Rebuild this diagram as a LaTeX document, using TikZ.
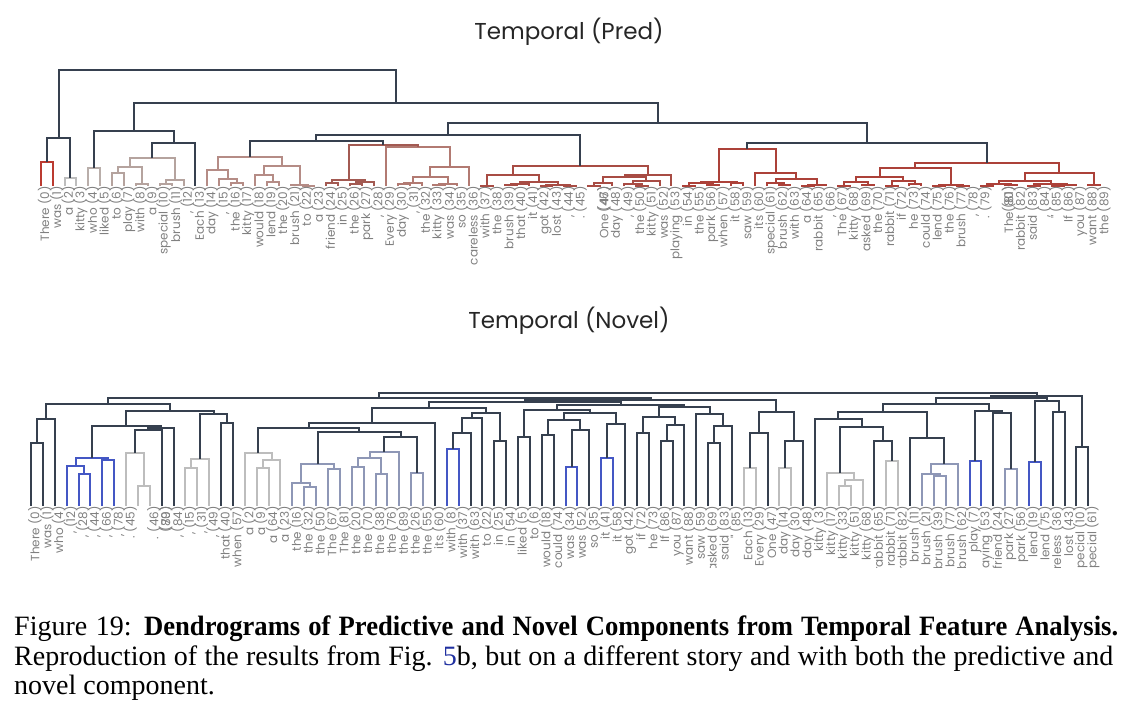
\documentclass[tikz,border=0pt]{standalone}
\usepackage{fontspec}
\setmainfont{Liberation Serif}
\newfontfamily\lblfont{Poppins}
\newfontfamily\capfont[BoldFeatures={FakeStretch=0.95}]{Liberation Serif}
\usetikzlibrary{calc}

\definecolor{navyc}{HTML}{36404F}
\definecolor{redc}{HTML}{BB3A30}
\definecolor{greyc}{HTML}{BDBDBD}
\definecolor{tanc}{HTML}{B9AEAA}
\definecolor{taupec}{HTML}{B5A39E}
\definecolor{rosec}{HTML}{B58C86}
\definecolor{brownc}{HTML}{A35A52}
\definecolor{rosyc}{HTML}{B27A72}
\definecolor{rbrownc}{HTML}{A84C44}
\definecolor{red2c}{HTML}{AC4139}
\definecolor{bluec}{HTML}{4457C4}
\definecolor{bgreyc}{HTML}{8E97B6}
\definecolor{lblc}{HTML}{808080}
\definecolor{linkc}{HTML}{2030A0}

% one merge of a dendrogram: name, left child, right child, height, style
\newcommand{\dmerge}[5]{%
  \draw[#5] (#2) -- (#2 |- 0,#4) -- (#3 |- 0,#4) -- (#3);
  \coordinate (#1) at ($(#2 |- 0,#4)!0.5!(#3 |- 0,#4)$);
}

\begin{document}
\begin{tikzpicture}[
    x=1pt, y=-1pt,
    dline/.style={line width=2pt, draw=#1},
    dline/.default=navyc,
    navyl/.style={dline=navyc},
    redl/.style={dline=redc},
    greyl/.style={dline=greyc},
    tanl/.style={dline=tanc},
    taupel/.style={dline=taupec},
    rosel/.style={dline=rosec},
    brownl/.style={dline=brownc},
    rosyl/.style={dline=rosyc},
    rbrownl/.style={dline=rbrownc},
    red2l/.style={dline=red2c},
    bluel/.style={dline=bluec},
    bgreyl/.style={dline=bgreyc},
    lbl/.style={rotate=90, anchor=east, inner sep=0pt, yshift=-4pt,
                font=\lblfont\fontsize{12}{13}\selectfont, text=lblc},
    ttl/.style={font=\lblfont\fontsize{23}{27}\selectfont, text=black!85},
    captxt/.style={anchor=base west, inner sep=0pt,
                font=\capfont\fontsize{28}{30}\selectfont}
]
    \useasboundingbox (0,0) rectangle (1133,709);

    % Titles
    \node[ttl] (ttlpred)  at (569,32)  {Temporal (Pred)};
    \node[ttl] (ttlnovel) at (569,321) {Temporal (Novel)};

    % Leaves
    \foreach \i in {0,...,89} {
        \coordinate (p\i) at ({40.7+11.9*\i},186);
        \coordinate (q\i) at ({31+11.88*\i},506);
    }

    % Pred dendrogram
    \dmerge{t1}{p0}{p1}{162}{redl}
    \dmerge{t2}{p2}{p3}{178}{greyl}
    \dmerge{t3}{t1}{t2}{138}{navyl}
    \dmerge{t4}{p4}{p5}{168}{tanl}
    \dmerge{t5}{p6}{p7}{173}{taupel}
    \dmerge{t6}{p8}{p9}{184}{taupel}
    \dmerge{t7}{t5}{t6}{167}{taupel}
    \dmerge{t8}{p10}{p11}{184}{taupel}
    \dmerge{t9}{t8}{p12}{180}{taupel}
    \dmerge{t10}{t7}{t9}{158}{taupel}
    \dmerge{t11}{t10}{p13}{143}{navyl}
    \dmerge{t12}{t4}{t11}{131}{navyl}
    \dmerge{t13}{p16}{p17}{183}{rosel}
    \dmerge{t14}{p15}{t13}{179}{rosel}
    \dmerge{t15}{p14}{t14}{170}{rosel}
    \dmerge{t16}{p19}{p20}{182}{rosel}
    \dmerge{t17}{p18}{t16}{175}{rosel}
    \dmerge{t18}{p22}{p23}{185.5}{rosel}
    \dmerge{t19}{p21}{t18}{185}{rosel}
    \dmerge{t20}{t17}{t19}{166}{rosel}
    \dmerge{t21}{t15}{t20}{157}{rosel}
    \dmerge{t22}{p24}{p25}{183}{brownl}
    \dmerge{t23}{p26}{p27}{184}{brownl}
    \dmerge{t24}{t23}{p28}{182}{brownl}
    \dmerge{t25}{t22}{t24}{180}{brownl}
    \dmerge{t26}{p30}{p31}{184}{rosyl}
    \dmerge{t27}{t26}{p32}{183}{rosyl}
    \dmerge{t28}{p33}{p34}{185}{rosyl}
    \dmerge{t29}{t28}{p35}{184}{rosyl}
    \dmerge{t30}{t27}{t29}{177}{rosyl}
    \dmerge{t31}{t30}{p36}{167}{rosyl}
    \dmerge{t32}{p29}{t31}{147}{rosyl}
    \dmerge{t33}{t25}{t32}{145}{brownl}
    \dmerge{t34}{t21}{t33}{141}{navyl}
    \dmerge{t35}{p37}{p38}{185.5}{rbrownl}
    \dmerge{t36}{p39}{p40}{185}{rbrownl}
    \dmerge{t37}{t36}{p41}{184}{rbrownl}
    \dmerge{t38}{p42}{p43}{185.5}{rbrownl}
    \dmerge{t39}{p44}{p45}{185.5}{rbrownl}
    \dmerge{t40}{t38}{t39}{185}{rbrownl}
    \dmerge{t41}{t37}{t40}{182}{rbrownl}
    \dmerge{t42}{t35}{t41}{175}{rbrownl}
    \dmerge{t43}{p46}{p47}{185.5}{rbrownl}
    \dmerge{t44}{t43}{p48}{183}{rbrownl}
    \dmerge{t45}{p50}{p51}{185.5}{rbrownl}
    \dmerge{t46}{p49}{t45}{184}{rbrownl}
    \dmerge{t47}{t46}{p52}{181}{rbrownl}
    \dmerge{t48}{t44}{t47}{177}{rbrownl}
    \dmerge{t49}{t48}{p53}{175}{rbrownl}
    \dmerge{t50}{t42}{t49}{166}{rbrownl}
    \dmerge{t51}{t34}{t50}{135}{navyl}
    \dmerge{t52}{p54}{p55}{185.5}{red2l}
    \dmerge{t53}{p56}{p57}{185}{red2l}
    \dmerge{t54}{t52}{t53}{183}{red2l}
    \dmerge{t55}{p58}{p59}{183}{red2l}
    \dmerge{t56}{t54}{t55}{182}{red2l}
    \dmerge{t57}{p62}{p63}{185}{red2l}
    \dmerge{t58}{p61}{t57}{183}{red2l}
    \dmerge{t59}{p64}{p65}{185.5}{red2l}
    \dmerge{t60}{t59}{p66}{185}{red2l}
    \dmerge{t61}{t58}{t60}{179}{red2l}
    \dmerge{t62}{p60}{t61}{173}{red2l}
    \dmerge{t63}{t56}{t62}{149}{red2l}
    \dmerge{t64}{p67}{p68}{185.5}{red2l}
    \dmerge{t65}{p69}{p70}{185}{red2l}
    \dmerge{t66}{t64}{t65}{182}{red2l}
    \dmerge{t67}{p71}{p72}{185.5}{red2l}
    \dmerge{t68}{p73}{p74}{184}{red2l}
    \dmerge{t69}{t67}{t68}{181}{red2l}
    \dmerge{t70}{t66}{t69}{177}{red2l}
    \dmerge{t71}{p75}{p76}{185.5}{red2l}
    \dmerge{t72}{p77}{p78}{185.5}{red2l}
    \dmerge{t73}{t71}{t72}{185}{red2l}
    \dmerge{t74}{t70}{t73}{168}{red2l}
    \dmerge{t75}{p79}{p80}{185.5}{red2l}
    \dmerge{t76}{p81}{p82}{185}{red2l}
    \dmerge{t77}{t75}{t76}{184}{red2l}
    \dmerge{t78}{p83}{p84}{185.5}{red2l}
    \dmerge{t79}{p85}{p86}{185.5}{red2l}
    \dmerge{t80}{t79}{p87}{185}{red2l}
    \dmerge{t81}{t78}{t80}{184}{red2l}
    \dmerge{t82}{t77}{t81}{181}{red2l}
    \dmerge{t83}{p88}{p89}{185}{red2l}
    \dmerge{t84}{t82}{t83}{173}{red2l}
    \dmerge{t85}{t74}{t84}{163}{red2l}
    \dmerge{t86}{t63}{t85}{143}{navyl}
    \dmerge{t87}{t51}{t86}{123}{navyl}
    \dmerge{t88}{t12}{t87}{103}{navyl}
    \dmerge{t89}{t3}{t88}{70}{navyl}

    % Novel dendrogram
    \dmerge{b1}{q0}{q1}{443}{navyl}
    \dmerge{b2}{b1}{q2}{419}{navyl}
    \dmerge{b3}{q4}{q5}{474}{bluel}
    \dmerge{b4}{q3}{b3}{466}{bluel}
    \dmerge{b5}{q6}{q7}{460}{bluel}
    \dmerge{b6}{b4}{b5}{458}{bluel}
    \dmerge{b7}{q9}{q10}{486}{greyl}
    \dmerge{b8}{q8}{b7}{453}{greyl}
    \dmerge{b9}{b8}{q11}{430}{navyl}
    \dmerge{b10}{b9}{q12}{428}{navyl}
    \dmerge{b11}{b6}{b10}{426}{navyl}
    \dmerge{b12}{q13}{q14}{468}{greyl}
    \dmerge{b13}{b12}{q15}{459}{greyl}
    \dmerge{b14}{q16}{q17}{423}{navyl}
    \dmerge{b15}{b13}{b14}{414}{navyl}
    \dmerge{b16}{b11}{b15}{411}{navyl}
    \dmerge{b17}{b2}{b16}{404}{navyl}
    \dmerge{b18}{q19}{q20}{468}{greyl}
    \dmerge{b19}{b18}{q21}{460}{greyl}
    \dmerge{b20}{q18}{b19}{453}{greyl}
    \dmerge{b21}{q23}{q24}{487}{bgreyl}
    \dmerge{b22}{q22}{b21}{483}{bgreyl}
    \dmerge{b23}{q25}{q26}{469}{bgreyl}
    \dmerge{b24}{b22}{b23}{464}{bgreyl}
    \dmerge{b25}{q27}{q28}{467}{bgreyl}
    \dmerge{b26}{q29}{q30}{474}{bgreyl}
    \dmerge{b27}{b25}{b26}{458}{bgreyl}
    \dmerge{b28}{b27}{q31}{452}{bgreyl}
    \dmerge{b29}{q32}{q33}{473}{bgreyl}
    \dmerge{b30}{b28}{b29}{437}{navyl}
    \dmerge{b31}{b24}{b30}{432}{navyl}
    \dmerge{b32}{b20}{b31}{428}{navyl}
    \dmerge{b33}{b32}{q34}{423}{navyl}
    \dmerge{b34}{q35}{q36}{449}{bluel}
    \dmerge{b35}{b34}{q37}{433}{navyl}
    \dmerge{b36}{b35}{q38}{418}{navyl}
    \dmerge{b37}{q39}{q40}{441}{navyl}
    \dmerge{b38}{b36}{b37}{413}{navyl}
    \dmerge{b39}{q41}{q42}{437}{navyl}
    \dmerge{b40}{q43}{q44}{435}{navyl}
    \dmerge{b41}{q45}{q46}{467}{bluel}
    \dmerge{b42}{b41}{q47}{430}{navyl}
    \dmerge{b43}{b40}{b42}{420}{navyl}
    \dmerge{b44}{q48}{q49}{458}{bluel}
    \dmerge{b45}{b44}{q50}{424}{navyl}
    \dmerge{b46}{b43}{b45}{413}{navyl}
    \dmerge{b47}{b39}{b46}{410}{navyl}
    \dmerge{b48}{q51}{q52}{433}{navyl}
    \dmerge{b49}{q53}{q54}{441}{navyl}
    \dmerge{b50}{b49}{q55}{425}{navyl}
    \dmerge{b51}{b48}{b50}{417}{navyl}
    \dmerge{b52}{q57}{q58}{443}{navyl}
    \dmerge{b53}{b52}{q59}{426}{navyl}
    \dmerge{b54}{q56}{b53}{414}{navyl}
    \dmerge{b55}{b51}{b54}{407}{navyl}
    \dmerge{b56}{q60}{q61}{468}{greyl}
    \dmerge{b57}{b56}{q62}{433}{navyl}
    \dmerge{b58}{q63}{q64}{468}{greyl}
    \dmerge{b59}{b58}{q65}{441}{navyl}
    \dmerge{b60}{b57}{b59}{412}{navyl}
    \dmerge{b61}{q68}{q69}{486}{greyl}
    \dmerge{b62}{b61}{q70}{480}{greyl}
    \dmerge{b63}{q67}{b62}{473}{greyl}
    \dmerge{b64}{q72}{q73}{461}{greyl}
    \dmerge{b65}{q71}{b64}{441}{navyl}
    \dmerge{b66}{b63}{b65}{427}{navyl}
    \dmerge{b67}{q66}{b66}{419}{navyl}
    \dmerge{b68}{q76}{q77}{476}{bgreyl}
    \dmerge{b69}{q75}{b68}{474}{bgreyl}
    \dmerge{b70}{b69}{q78}{464}{bgreyl}
    \dmerge{b71}{q74}{b70}{438}{navyl}
    \dmerge{b72}{b67}{b71}{412}{navyl}
    \dmerge{b73}{q79}{q80}{461}{bluel}
    \dmerge{b74}{q82}{q83}{469}{bgreyl}
    \dmerge{b75}{q81}{b74}{413}{navyl}
    \dmerge{b76}{b73}{b75}{411}{navyl}
    \dmerge{b77}{b72}{b76}{404}{navyl}
    \dmerge{b78}{q84}{q85}{462}{bluel}
    \dmerge{b79}{q86}{q87}{412}{navyl}
    \dmerge{b80}{b78}{b79}{401}{navyl}
    \dmerge{b81}{q88}{q89}{447}{navyl}
    \dmerge{b82}{b77}{b80}{398}{navyl}
    \dmerge{b83}{b82}{b81}{396}{navyl}
    \dmerge{b84}{b33}{b38}{408}{navyl}
    \dmerge{b85}{b47}{b55}{405}{navyl}
    \dmerge{b86}{b84}{b85}{402}{navyl}
    \dmerge{b87}{b86}{b60}{400}{navyl}
    \dmerge{b88}{b17}{b87}{398}{navyl}
    \dmerge{b89}{b88}{b83}{393}{navyl}

    % Leaf labels
    \foreach \s/\t [count=\k] in {0/There (0), 1/was (1), 2/a (2), 3/kitty (3),
        4/who (4), 5/liked (5), 6/to (6), 7/play (7), 8/with (8), 9/a (9),
        10/special (10), 11/brush (11), 12/{, (12)}, 13/Each (13), 14/day (14),
        15/{, (15)}, 16/the (16), 17/kitty (17), 18/would (18), 19/lend (19),
        20/the (20), 21/brush (21), 22/to (22), 23/a (23), 24/friend (24),
        25/in (25), 26/the (26), 27/park (27), 28/{, (28)}, 29/Every (29),
        30/day (30), 31/{, (31)}, 32/the (32), 33/kitty (33), 34/was (34),
        35/so (35), 36/careless (36), 37/with (37), 38/the (38), 39/brush (39),
        40/that (40), 41/it (41), 42/got (42), 43/lost (43), 44/{, (44)},
        45/. (45), 47/(46), 47/One (47), 48/day (48), 49/{, (49)}, 50/the (50),
        51/kitty (51), 52/was (52), 53/playing (53), 54/in (54), 55/the (55),
        56/park (56), 57/when (57), 58/it (58), 59/saw (59), 60/its (60),
        61/special (61), 62/brush (62), 63/with (63), 64/a (64), 65/rabbit (65),
        66/{, (66)}, 67/The (67), 68/kitty (68), 69/asked (69), 70/the (70),
        71/rabbit (71), 72/if (72), 73/he (73), 74/could (74), 75/lend (75),
        76/the (76), 77/brush (77), 78/{, (78)}, 79/. (79), 81/(80), 81/The (81),
        82/rabbit (82), 83/said (83), 84/{, (84)}, 85/" (85), 86/If (86),
        87/you (87), 88/want (88), 89/the (89)}
        \node[lbl] (tl\k) at (p\s) {\t};

    \begin{scope}
        \clip (0,500) rectangle (1133,567);
        \foreach \s/\t [count=\k] in {0/There (0), 1/was (1), 2/who (4),
            3/{, (12)}, 4/{, (28)}, 5/{, (44)}, 6/{, (66)}, 7/{, (78)}, 8/. (45),
            10/. (46), 11/(79), 11/(80), 12/{, (84)}, 13/{, (15)}, 14/{, (31)},
            15/{, (49)}, 16/that (40), 17/when (57), 18/a (2), 19/a (9),
            20/a (64), 21/a (23), 22/the (16), 23/the (32), 24/the (50),
            25/The (67), 26/The (81), 27/the (20), 28/the (70), 29/the (38),
            30/the (76), 31/the (89), 32/the (26), 33/the (55), 34/its (60),
            35/with (8), 36/with (37), 37/with (63), 38/to (22), 39/in (25),
            40/in (54), 41/liked (5), 42/to (6), 43/would (18), 44/could (74),
            45/was (34), 46/was (52), 47/so (35), 48/it (41), 49/it (58),
            50/got (42), 51/if (72), 52/he (73), 53/If (86), 54/you (87),
            55/want (88), 56/saw (59), 57/asked (69), 58/said (83), 59/" (85),
            60/Each (13), 61/Every (29), 62/One (47), 63/day (14), 64/day (30),
            65/day (48), 66/kitty (3), 67/kitty (17), 68/kitty (33),
            69/kitty (51), 70/kitty (68), 71/rabbit (65), 72/rabbit (71),
            73/rabbit (82), 74/brush (11), 75/brush (21), 76/brush (39),
            77/brush (77), 78/brush (62), 79/play (7), 80/playing (53),
            81/friend (24), 82/park (27), 83/park (56), 84/lend (19),
            85/lend (75), 86/careless (36), 87/lost (43), 88/special (10),
            89/special (61)}
            \node[lbl] (bl\k) at (q\s) {\t};
    \end{scope}

    % Caption
    \node[captxt] (cap1) at (14,635) {\makebox[1104pt][s]{Figure 19: \textbf{Dendrograms of Predictive and Novel Components from Temporal Feature Analysis.}}};
    \node[captxt] (cap2) at (14,665) {\makebox[1099pt][s]{Reproduction of the results from Fig. \textcolor{linkc}{5}b, but on a different story and with both the predictive and}};
    \node[captxt] (cap3) at (14,694) {novel component.};
\end{tikzpicture}
\end{document}
